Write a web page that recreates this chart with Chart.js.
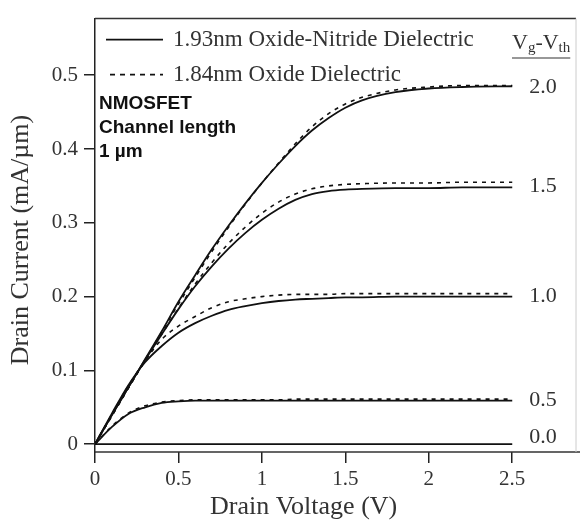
<!DOCTYPE html>
<html>
<head>
<meta charset="utf-8">
<script src="https://cdn.jsdelivr.net/npm/chart.js@4.4.0/dist/chart.umd.min.js"></script>
<style>
  html, body { margin: 0; padding: 0; background: #fff; }
</style>
</head>
<body>
<canvas id="myChart" width="580" height="527"></canvas>
<script>
// drain voltage (V)
const drainVoltage = [0, 0.1, 0.2, 0.3, 0.4, 0.5, 0.6, 0.7, 0.8, 0.9, 1.0, 1.1, 1.2, 1.3, 1.4, 1.5, 1.6, 1.8, 2.0, 2.2, 2.5];

// 1.93nm oxide-nitride (solid), drain current mA/um
const nitride20 = [0, 0.039, 0.077, 0.115, 0.153, 0.193, 0.229, 0.264, 0.296, 0.326, 0.354, 0.380, 0.404, 0.425, 0.442, 0.456, 0.466, 0.477, 0.482, 0.484, 0.485];
const nitride15 = [0, 0.039, 0.077, 0.114, 0.149, 0.183, 0.214, 0.241, 0.265, 0.286, 0.304, 0.319, 0.331, 0.339, 0.343, 0.345, 0.346, 0.347, 0.347, 0.348, 0.348];
const nitride10 = [0, 0.041, 0.080, 0.111, 0.133, 0.151, 0.164, 0.174, 0.182, 0.187, 0.191, 0.194, 0.196, 0.197, 0.198, 0.199, 0.199, 0.200, 0.200, 0.200, 0.200];
const nitride05 = [0, 0.023, 0.041, 0.050, 0.056, 0.058, 0.059, 0.059, 0.059, 0.059, 0.059, 0.059, 0.059, 0.059, 0.059, 0.059, 0.059, 0.059, 0.059, 0.059, 0.059];
const nitride00 = [0, 0, 0, 0, 0, 0, 0, 0, 0, 0, 0, 0, 0, 0, 0, 0, 0, 0, 0, 0, 0];

// 1.84nm oxide (dashed)
const oxide20 = [0, 0.038, 0.076, 0.114, 0.152, 0.190, 0.226, 0.261, 0.294, 0.325, 0.354, 0.381, 0.407, 0.430, 0.448, 0.461, 0.470, 0.480, 0.484, 0.486, 0.486];
const oxide15 = [0, 0.038, 0.076, 0.113, 0.149, 0.184, 0.217, 0.246, 0.272, 0.294, 0.313, 0.328, 0.339, 0.346, 0.350, 0.352, 0.353, 0.354, 0.354, 0.355, 0.355];
const oxide10 = [0, 0.040, 0.079, 0.113, 0.142, 0.160, 0.173, 0.185, 0.193, 0.197, 0.200, 0.202, 0.203, 0.203, 0.203, 0.204, 0.204, 0.204, 0.204, 0.204, 0.204];
const oxide05 = [0, 0.024, 0.042, 0.052, 0.057, 0.059, 0.060, 0.060, 0.060, 0.060, 0.060, 0.060, 0.061, 0.061, 0.061, 0.061, 0.061, 0.061, 0.061, 0.061, 0.061];

// gate overdrive labels on the right
const overdriveLabels = ["2.0", "1.5", "1.0", "0.5", "0.0"];
const overdriveLabelY = [0.484, 0.349, 0.200, 0.060, 0.009];

const xTicks = [0, 0.5, 1, 1.5, 2, 2.5];
const yTicks = [0, 0.1, 0.2, 0.3, 0.4, 0.5];

const legendLabels = ["1.93nm Oxide-Nitride Dielectric", "1.84nm Oxide Dielectric"];

const toPoints = (ys) => drainVoltage.map((x, i) => ({ x: x, y: ys[i] }));

const solid = (ys) => ({
  data: toPoints(ys),
  borderColor: "#111",
  borderWidth: 1.8,
  pointRadius: 0,
  showLine: true,
  cubicInterpolationMode: "monotone",
});
const dashed = (ys) => ({
  data: toPoints(ys),
  borderColor: "#111",
  borderWidth: 1.6,
  borderDash: [4, 5],
  pointRadius: 0,
  showLine: true,
  cubicInterpolationMode: "monotone",
});

const serif = "'Liberation Serif', 'DejaVu Serif', serif";
const sans = "'Liberation Sans', Arial, sans-serif";

const decorations = {
  id: "decorations",
  afterDraw(chart) {
    const ctx = chart.ctx;
    const a = chart.chartArea;
    const xs = chart.scales.x;
    const ys = chart.scales.y;
    ctx.save();

    // frame
    ctx.lineWidth = 1.5;
    ctx.strokeStyle = "#333";
    ctx.beginPath();
    ctx.moveTo(a.left, a.top);
    ctx.lineTo(a.right, a.top);
    ctx.moveTo(a.left, a.bottom);
    ctx.lineTo(580, a.bottom);
    ctx.stroke();
    ctx.strokeStyle = "#ccc";
    ctx.lineWidth = 1;
    ctx.beginPath();
    ctx.moveTo(a.right, a.top);
    ctx.lineTo(a.right, a.bottom);
    ctx.stroke();

    // legend
    ctx.strokeStyle = "#111";
    ctx.lineWidth = 1.8;
    ctx.beginPath();
    ctx.moveTo(a.left + 11, a.top + 21);
    ctx.lineTo(a.left + 68, a.top + 21);
    ctx.stroke();
    ctx.lineWidth = 1.6;
    ctx.setLineDash([5, 5]);
    ctx.beginPath();
    ctx.moveTo(a.left + 15, a.top + 56);
    ctx.lineTo(a.left + 68, a.top + 56);
    ctx.stroke();
    ctx.setLineDash([]);

    ctx.fillStyle = "#333";
    ctx.font = "23px " + serif;
    ctx.textAlign = "left";
    ctx.textBaseline = "middle";
    ctx.fillText(legendLabels[0], a.left + 78, a.top + 21);
    ctx.fillText(legendLabels[1], a.left + 78, a.top + 56);

    // device note
    ctx.fillStyle = "#111";
    ctx.font = "bold 19px " + sans;
    ctx.fillText("NMOSFET", a.left + 4, 104);
    ctx.fillText("Channel length", a.left + 4, 128);
    ctx.fillText("1 \u00b5m", a.left + 4, 152);

    // Vg - Vth header
    ctx.fillStyle = "#333";
    let hx = 512;
    const hy = 43;
    const parts = [["V", 22, 0], ["g", 15, 5], ["-", 22, 0], ["V", 22, 0], ["th", 15, 5]];
    parts.forEach(p => {
      ctx.font = p[1] + "px " + serif;
      ctx.fillText(p[0], hx, hy + p[2]);
      hx += ctx.measureText(p[0]).width;
    });
    ctx.strokeStyle = "#333";
    ctx.lineWidth = 1.2;
    ctx.beginPath();
    ctx.moveTo(512, 58);
    ctx.lineTo(hx, 58);
    ctx.stroke();

    // curve labels
    ctx.font = "22px " + serif;
    overdriveLabels.forEach((t, i) => {
      ctx.fillText(t, xs.getPixelForValue(2.5) + 17, ys.getPixelForValue(overdriveLabelY[i]));
    });

    // axis titles
    ctx.textAlign = "center";
    ctx.font = "26px " + serif;
    ctx.fillText("Drain Voltage (V)", (a.left + xs.getPixelForValue(2.5)) / 2, 507);
    ctx.translate(21, 240);
    ctx.rotate(-Math.PI / 2);
    ctx.fillText("Drain Current (mA/\u00b5m)", 0, 0);
    ctx.restore();
  },
};

const chartInstance = new Chart(document.getElementById("myChart"), {
  type: "scatter",
  data: {
    datasets: [
      solid(nitride20), solid(nitride15), solid(nitride10), solid(nitride05), solid(nitride00),
      dashed(oxide20), dashed(oxide15), dashed(oxide10), dashed(oxide05),
    ],
  },
  options: {
    responsive: false,
    animation: false,
    layout: { padding: { top: 8, right: 4, left: 0, bottom: 0 } },
    plugins: { legend: { display: false }, tooltip: { enabled: false } },
    scales: {
      x: {
        type: "linear",
        min: 0,
        max: 2.882,
        afterFit: (s) => { s.height = 75; },
        afterBuildTicks: (s) => { s.ticks = xTicks.map(v => ({ value: v })); },
        grid: { drawOnChartArea: false, drawTicks: true, tickLength: 11, color: "#222", lineWidth: 1.5 },
        border: { display: false },
        ticks: {
          color: "#333",
          font: { family: serif, size: 21 },
          padding: 4,
          maxRotation: 0,
          callback: (v) => String(v),
        },
      },
      y: {
        type: "linear",
        min: -0.0106,
        max: 0.5767,
        afterFit: (s) => { s.width = 95; },
        afterBuildTicks: (s) => { s.ticks = yTicks.map(v => ({ value: v })); },
        grid: { drawOnChartArea: false, drawTicks: true, tickLength: 11, color: "#222", lineWidth: 1.5 },
        border: { display: true, color: "#222", width: 1.5 },
        ticks: {
          color: "#333",
          font: { family: serif, size: 21 },
          padding: 6,
          callback: (v) => String(v),
        },
      },
    },
  },
  plugins: [decorations],
});
</script>
</body>
</html>
